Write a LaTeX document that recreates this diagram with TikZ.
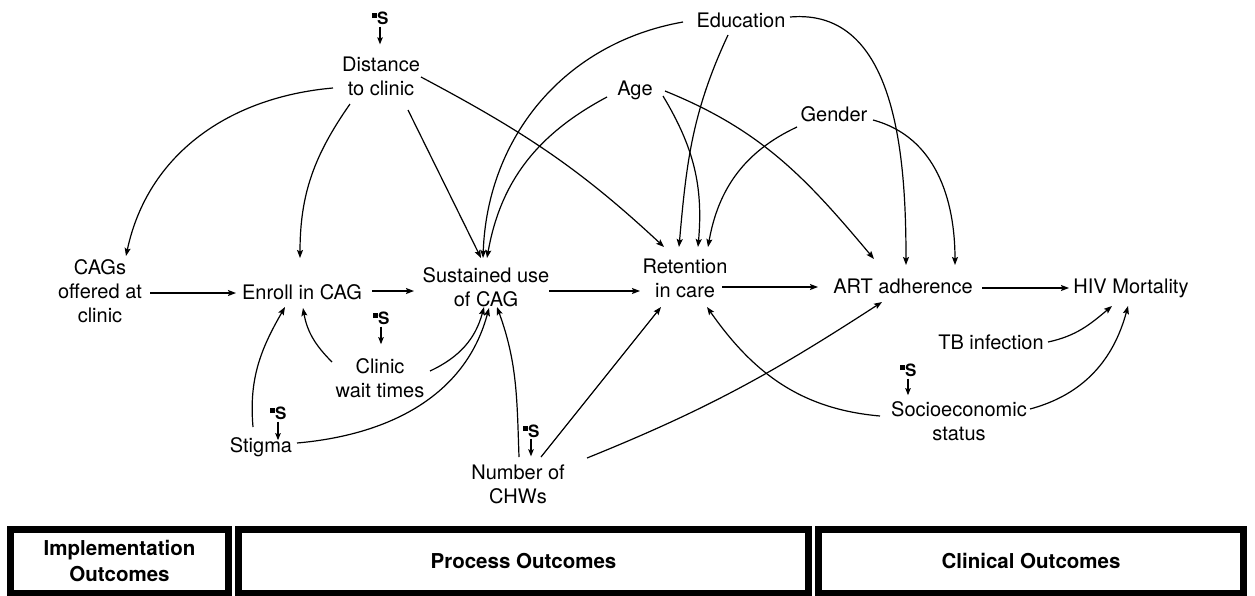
\documentclass[tikz,border=0pt]{standalone}
\usepackage{fontspec}
\setmainfont{TeX Gyre Heros}
\usetikzlibrary{arrows.meta}
\newcommand\sqS{\raisebox{6pt}{\rule{5pt}{5pt}}\hspace{0.6pt}S}
\begin{document}
\begin{tikzpicture}[x=1pt,y=1pt,
  lbl/.style={font=\fontsize{20}{24}\selectfont, align=center, inner sep=0pt},
  arr/.style={-{Stealth[length=8pt,width=6pt,inset=1.5pt]}, line width=1.2pt},
  smark/.style={font=\fontsize{17}{17}\bfseries\selectfont, inner sep=0pt},
  sarr/.style={-{Stealth[length=7pt,width=5.5pt,inset=1.2pt]}, line width=1.1pt},
  outbox/.style={draw, line width=6.8pt, inner sep=0pt, minimum height=64.25pt,
    font=\fontsize{20.5}{26}\bfseries\selectfont, align=center}]
\useasboundingbox (0,-595) rectangle (1255,0);

% nodes
\node[lbl] (dist) at (381,-76) {Distance\\to clinic};
\node[lbl] (edu) at (741,-20) {Education};
\node[lbl] (age) at (635,-90) {Age};
\node[lbl] (gen) at (834,-114) {Gender};
\node[lbl] (cags) at (100,-291) {CAGs\\offered at\\clinic};
\node[lbl] (enr) at (302,-292) {Enroll in CAG};
\node[lbl] (sus) at (486,-287) {Sustained use\\of CAG};
\node[lbl] (ret) at (685,-278) {Retention\\in care};
\node[lbl] (art) at (903,-286) {ART adherence};
\node[lbl] (hiv) at (1131,-288) {HIV Mortality};
\node[lbl] (cwt) at (380,-378) {Clinic\\wait times};
\node[lbl] (stig) at (261,-447) {Stigma};
\node[lbl] (chw) at (518,-484) {Number of\\CHWs};
\node[lbl] (tb) at (991,-342) {TB infection};
\node[lbl] (ses) at (959,-421) {Socioeconomic\\status};

% S markers
\node[smark] (s1) at (380,-18) {\sqS};
\node[smark] (s2) at (381,-318) {\sqS};
\node[smark] (s3) at (278,-413) {\sqS};
\node[smark] (s4) at (531,-431) {\sqS};
\node[smark] (s5) at (908,-370) {\sqS};
\draw[sarr, shorten <=2pt, shorten >=12pt] (s1.south) -- (s1.south |- dist.north);
\draw[sarr, shorten <=2pt, shorten >=14pt] (s2.south) -- (s2.south |- cwt.north);
\draw[sarr, shorten <=2pt, shorten >=-3pt] (s3.south) -- (s3.south |- stig.north);
\draw[sarr, shorten <=1pt, shorten >=8pt] (s4.south) -- (s4.south |- chw.north);
\draw[sarr, shorten <=2pt, shorten >=6pt] (s5.south) -- (s5.south |- ses.north);

% main chain
\draw[arr] ([shift={(50,-2)}]cags.center) -- ([shift={(-66,-1)}]enr.center);
\draw[arr] ([shift={(70,1)}]enr.center) -- ([shift={(-72,-4)}]sus.center);
\draw[arr] ([shift={(63,-4)}]sus.center) -- ([shift={(-45,-13)}]ret.center);
\draw[arr] ([shift={(37,-9)}]ret.center) -- ([shift={(-85,-1)}]art.center);
\draw[arr] ([shift={(79,-2)}]art.center) -- ([shift={(-62,0)}]hiv.center);

% distance
\draw[arr] ([shift={(-48,-12)}]dist.center) to[out=185,in=78] ([shift={(26,35)}]cags.center);
\draw[arr] ([shift={(-31,-28)}]dist.center) to[out=235,in=90] ([shift={(-2,34)}]enr.center);
\draw[arr] ([shift={(27,-34)}]dist.center) -- ([shift={(-5,29)}]sus.center);
\draw[arr] ([shift={(40,-1)}]dist.center) to[out=-28,in=137] ([shift={(-21,31)}]ret.center);

% education
\draw[arr] ([shift={(-58,-2)}]edu.center) to[out=190,in=88] ([shift={(-3,29)}]sus.center);
\draw[arr] ([shift={(-13,-15)}]edu.center) to[out=245,in=85] ([shift={(-6,31)}]ret.center);
\draw[arr] ([shift={(49,3)}]edu.center) to[out=5,in=90] ([shift={(3,21)}]art.center);

% age
\draw[arr] ([shift={(-28,-7)}]age.center) to[out=208,in=80] ([shift={(1,29)}]sus.center);
\draw[arr] ([shift={(28,-6)}]age.center) to[out=-59,in=85] ([shift={(13,31)}]ret.center);
\draw[arr] ([shift={(30,-1)}]age.center) to[out=-22,in=130] ([shift={(-29,27)}]art.center);

% gender
\draw[arr] ([shift={(-37,-13)}]gen.center) to[out=205,in=80] ([shift={(23,31)}]ret.center);
\draw[arr] ([shift={(39,-6)}]gen.center) to[out=-15,in=90] ([shift={(52,21)}]art.center);

% clinic wait times
\draw[arr] ([shift={(-48,16)}]cwt.center) to[out=135,in=280] ([shift={(1,-16)}]enr.center);
\draw[arr] ([shift={(50,7)}]cwt.center) to[out=25,in=255] ([shift={(-2,-20)}]sus.center);

% stigma
\draw[arr] ([shift={(-8,20)}]stig.center) to[out=95,in=240] ([shift={(-17,-15)}]enr.center);
\draw[arr] ([shift={(36,4)}]stig.center) to[out=5,in=255] ([shift={(3,-21)}]sus.center);

% number of CHWs
\draw[arr] ([shift={(1,27)}]chw.center) to[out=92,in=290] ([shift={(11,-20)}]sus.center);
\draw[arr] ([shift={(23,27)}]chw.center) -- ([shift={(-24,-29)}]ret.center);
\draw[arr] ([shift={(69,26)}]chw.center) to[out=22,in=213] ([shift={(-21,-16)}]art.center);

% TB and SES
\draw[arr] ([shift={(57,0)}]tb.center) to[out=12,in=220] ([shift={(-19,-18)}]hiv.center);
\draw[arr] ([shift={(71,12)}]ses.center) to[out=15,in=255] ([shift={(-3,-18)}]hiv.center);
\draw[arr] ([shift={(-79,5)}]ses.center) to[out=175,in=305] ([shift={(22,-29)}]ret.center);

% bottom boxes
\node[outbox, minimum width=218.5pt] (b1) at (119.5,-561.4) {Implementation\\Outcomes};
\node[outbox, minimum width=570.5pt] (b2) at (523.5,-561.4) {Process Outcomes};
\node[outbox, minimum width=425.5pt] (b3) at (1031,-561.4) {Clinical Outcomes};
\end{tikzpicture}
\end{document}
